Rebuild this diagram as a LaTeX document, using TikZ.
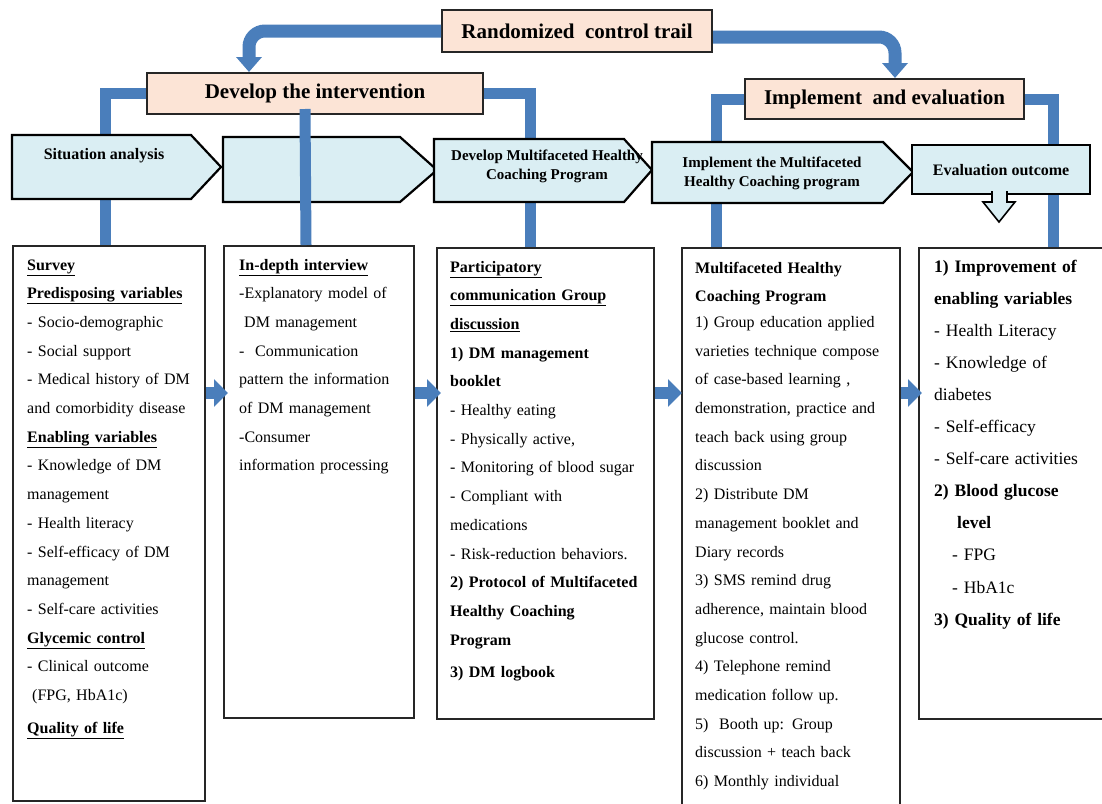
\documentclass[tikz,border=0pt]{standalone}
\usepackage{fontspec}
\setmainfont{Liberation Serif}
\usetikzlibrary{arrows.meta,calc}

\definecolor{peach}{HTML}{FCE4D6}
\definecolor{paleblue}{HTML}{DAEEF3}
\definecolor{busblue}{HTML}{4A7EBB}

\tikzset{
  hdrbox/.style={draw=black!85, line width=2pt, fill=peach, inner sep=0pt, font=\bfseries\fontsize{21}{24}\selectfont},
  pentbox/.style={draw=black, line width=2.2pt, fill=paleblue, line join=miter},
  pentlabel/.style={font=\bfseries\fontsize{15}{19}\selectfont, align=center, inner sep=0pt},
  lbox/.style={draw=black!85, line width=2pt, fill=white, inner sep=0pt, anchor=north west},
  bodytext/.style={anchor=base west, inner sep=0pt, text width=215pt, align=left, font=\fontsize{16}{28.7}\selectfont},
  bus/.style={busblue, line width=11pt},
  bigarrow/.style={busblue, line width=13pt, rounded corners=16pt, -{Triangle[width=25pt,length=15pt]}},
  flow/.style={busblue, line width=12pt, -{Triangle[width=27pt,length=14pt]}}
}

\begin{document}
\begin{tikzpicture}[x=1pt,y=-1pt]

    \useasboundingbox (0,0) rectangle (1102,803);
    \clip (0,0) rectangle (1102,803);

    % phase boxes
    \node[hdrbox, minimum width=270pt, minimum height=42pt] (rct) at (577,31) {Randomized\ \ control trail};
    \node[hdrbox, minimum width=336pt, minimum height=41pt] (dev) at (315,93.5) {Develop the intervention};
    \node[hdrbox, minimum width=279pt, minimum height=40pt] (impl) at (884.5,99) {Implement\ \ and evaluation};

    % lower boxes
    \node[lbox, minimum width=192pt, minimum height=555pt] (b1) at (12,245) {};
    \node[lbox, minimum width=190pt, minimum height=472pt] (b2) at (223,245) {};
    \node[lbox, minimum width=217pt, minimum height=471pt] (b3) at (436,247) {};
    \node[lbox, minimum width=218pt, minimum height=600pt] (b4) at (681,247) {};
    \node[lbox, minimum width=220pt, minimum height=471pt] (b5) at (918,247) {};

    % paths behind the step arrows
    \draw[bus] (dev.west) -| ($(b1.north west)+(93,0)$); % dev -> b1
    \draw[bus] (dev.east) -| ($(b3.north west)+(94,0)$); % dev -> b3
    \draw[bus] (impl.west) -| ($(b4.north west)+(35,0)$); % impl -> b4
    \draw[bus] (impl.east) -| ($(b5.north west)+(135,0)$); % impl -> b5

    % step arrows
    \draw[pentbox] (12,135) -- (191,135) -- (221,167) -- (191,199) -- (12,199) -- cycle;
    \draw[pentbox] (223,137) -- (400,137) -- (437,170) -- (400,202) -- (223,202) -- cycle;
    \draw[pentbox] (434,139) -- (624,139) -- (652,170) -- (624,202) -- (434,202) -- cycle;
    \draw[pentbox] (652,142) -- (883,142) -- (913,172) -- (883,203) -- (652,203) -- cycle;
    \node[pentbox, inner sep=0pt, minimum width=178pt, minimum height=49pt, anchor=north west,
          font=\bfseries\fontsize{16}{19}\selectfont] (ev) at (911,144) {Evaluation outcome};
    \draw[pentbox, line width=1.6pt] (992,191) -- (992,202) -- (983,202) -- (999,222) -- (1015,202) -- (1007,202) -- (1007,191);

    \node[pentlabel, font=\bfseries\fontsize{16}{19}\selectfont] (sa) at (104,156) {Situation analysis};
    \node[pentlabel] (dmp) at (547,166) {Develop Multifaceted Healthy\\Coaching Program};
    \node[pentlabel] (imp) at (772,173) {Implement the Multifaceted\\Healthy Coaching program};

    % dev -> b2, over the second step
    \draw[bus] ($(dev.south west)+(159,-6)$) -- ($(b2.north west)+(83,0)$);

    % rct -> dev, rct -> impl
    \draw[bigarrow] (rct.west) -| ($(dev.north west)+(103,0)$);
    \draw[bigarrow] ($(rct.east)+(0,6)$) -| ($(impl.north west)+(151,0)$);

    % box texts
    \node[bodytext] (t1) at (27,270) {\underline{\textbf{Survey}}\\
      \underline{\textbf{Predisposing variables}}\\
      - Socio-demographic\\
      - Social support\\
      - Medical history of DM\\
      and comorbidity disease\\
      \underline{\textbf{Enabling variables}}\\
      - Knowledge of DM\\
      management\\
      - Health literacy\\
      - Self-efficacy of DM\\
      management\\
      - Self-care activities\\
      \underline{\textbf{Glycemic control}}\\
      - Clinical outcome\\
      \hspace*{5pt}(FPG, HbA1c)\\[4pt]
      \underline{\textbf{Quality of life}}};

    \node[bodytext] (t2) at (239,270) {\underline{\textbf{In-depth interview}}\\
      -Explanatory model of\\
      \hspace*{5pt}DM management\\
      - \ Communication\\
      pattern the information\\
      of DM management\\
      -Consumer\\
      information processing};

    \node[bodytext] (t3) at (450,272) {\underline{\textbf{Participatory}}\\
      \underline{\textbf{communication Group}}\\
      \underline{\textbf{discussion}}\\
      \textbf{1) DM management}\\
      \textbf{booklet}\\
      - Healthy eating\\
      - Physically active,\\
      - Monitoring of blood sugar\\
      - Compliant with\\
      medications\\
      - Risk-reduction behaviors.\\
      \textbf{2) Protocol of Multifaceted}\\
      \textbf{Healthy Coaching}\\
      \textbf{Program}\\[4pt]
      \textbf{3) DM logbook}};

    \node[bodytext] (t4) at (695,273) {\textbf{Multifaceted Healthy}\\
      \textbf{Coaching Program}\\[-3pt]
      1) Group education applied\\
      varieties technique compose\\
      of case-based learning ,\\
      demonstration, practice and\\
      teach back using group\\
      discussion\\
      2) Distribute DM\\
      management booklet and\\
      Diary records\\
      3) SMS remind drug\\
      adherence, maintain blood\\
      glucose control.\\
      4) Telephone remind\\
      medication follow up.\\
      5)\ \ Booth up: Group\\
      discussion + teach back\\
      6) Monthly individual};

    \node[bodytext, font=\fontsize{17.5}{32.1}\selectfont] (t5) at (934,272) {\textbf{1) Improvement of}\\
      \textbf{enabling variables}\\
      - Health Literacy\\
      - Knowledge of\\
      diabetes\\
      - Self-efficacy\\
      - Self-care activities\\
      \textbf{2) Blood glucose}\\
      \hspace*{23pt}\textbf{level}\\
      \hspace*{18pt}- FPG\\
      \hspace*{18pt}- HbA1c\\
      \textbf{3) Quality of life}};

    % box -> box
    \draw[flow] ($(b1.north east)+(0,148)$) -- ($(b2.north west)+(5,148)$);
    \draw[flow] ($(b2.north east)+(0,148)$) -- ($(b3.north west)+(5,146)$);
    \draw[flow] ($(b3.north east)+(0,146)$) -- ($(b4.north west)+(1,146)$);
    \draw[flow] ($(b4.north east)+(0,146)$) -- ($(b5.north west)+(4,146)$);

\end{tikzpicture}
\end{document}
